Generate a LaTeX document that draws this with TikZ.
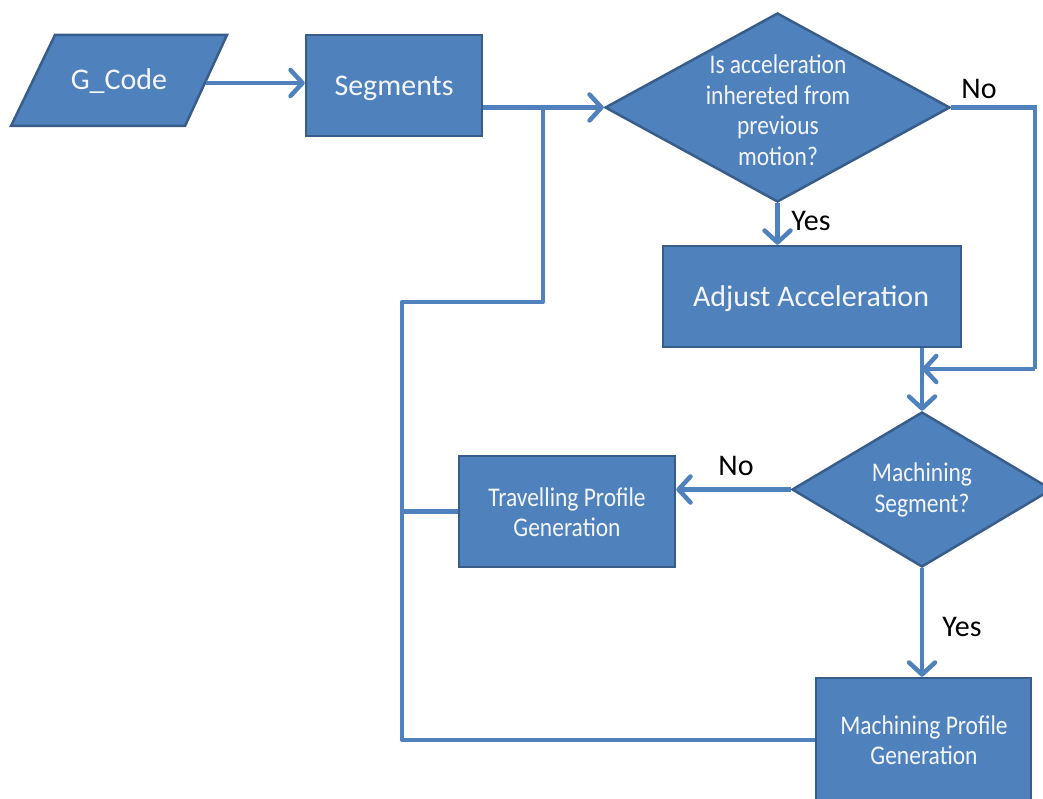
\documentclass[tikz,border=0pt]{standalone}
\usepackage{fontspec}
\setmainfont{Carlito}
\newfontfamily\condfont[FakeStretch=0.87]{Carlito}
\usetikzlibrary{shapes.geometric,arrows.meta}
\definecolor{boxfill}{HTML}{4F81BD}
\definecolor{boxline}{HTML}{385D8A}
\definecolor{txtcol}{HTML}{F4F6FB}
\tikzset{
  boxstyle/.style={draw=boxline, line width=2.5pt, fill=boxfill, inner sep=0pt},
  procbox/.style={boxstyle, rectangle},
  decbox/.style={boxstyle, diamond},
  bigtext/.style={text=txtcol, font=\fontsize{30}{36}\selectfont, align=center, inner sep=0pt},
  smalltext/.style={text=txtcol, font=\condfont\fontsize{27}{30.5}\selectfont, align=center, inner sep=0pt},
  lbl/.style={text=black, font=\fontsize{30}{34}\selectfont, inner sep=0pt},
  conn/.style={draw=boxfill, line width=4.5pt},
  arr/.style={conn, -{Straight Barb[length=12pt,width=26pt,line width=4.5pt,round]}}
}
\begin{document}
\begin{tikzpicture}[x=1pt,y=-1pt]
\useasboundingbox (0,0) rectangle (1043,799);
\clip (0,0) rectangle (1043,799);
% G_Code parallelogram
\path[boxstyle] (11,126) -- (55,35) -- (227,35) -- (185,126) -- cycle;
\node[bigtext] (gcode) at (119,81) {G\_Code};
\coordinate (gcodeout) at (206,83);
% Process boxes
\node[procbox, minimum width=176pt, minimum height=101pt] (segments) at (394,85.5) {};
\node[bigtext] (segtext) at (394,88) {Segments};
\node[procbox, minimum width=298pt, minimum height=101pt] (adjust) at (812,296.5) {};
\node[bigtext] (adjtext) at (811,299) {Adjust Acceleration};
\node[procbox, minimum width=216pt, minimum height=111pt] (travel) at (567,511.5) {};
\node[smalltext] (traveltext) at (567,512) {Travelling Profile\\Generation};
\node[procbox, minimum width=215pt, minimum height=124pt] (machprof) at (923.5,740) {};
\node[smalltext] (machproftext) at (924,740) {Machining Profile\\Generation};
% Decisions
\node[decbox, minimum width=345pt, minimum height=189pt] (dia1) at (777.5,107.5) {};
\node[smalltext] (dia1text) at (778,110) {Is acceleration\\inhereted from\\previous\\motion?};
\node[decbox, minimum width=260pt, minimum height=155pt] (dia2) at (922,489.5) {};
\node[smalltext] (dia2text) at (922,490) {Machining\\Segment?};
% Labels
\node[lbl] (no1) at (979,89) {No};
\node[lbl] (yes1) at (811,221) {Yes};
\node[lbl] (no2) at (736,466) {No};
\node[lbl] (yes2) at (962,627) {Yes};
% Coordinates for routing
\coordinate (rcorner) at (1035,369);
\coordinate (loopl) at (402,302);
\coordinate (loopr) at (543,302);
\coordinate (join) at (543,108);
% Connectors
\draw[arr] (gcodeout) -- (gcodeout -| segments.west);
\draw[arr] (segments.east |- dia1.west) -- (dia1.west);
\draw[arr] (dia1.south) -- (dia1.south |- adjust.north);
\draw[conn] (dia1.east) -| (rcorner);
\draw[arr] (rcorner) -- (rcorner -| dia2.north);
\draw[arr] (adjust.south -| dia2.north) -- (dia2.north);
\draw[arr] (dia2.west) -- (dia2.west -| travel.east);
\draw[arr] (dia2.south) -- (dia2.south |- machprof.north);
\draw[conn, line join=round] (machprof.west) -| (loopl) -- (loopr) -- (join);
\draw[conn] (travel.west) -- (travel.west -| loopl);
\end{tikzpicture}
\end{document}
